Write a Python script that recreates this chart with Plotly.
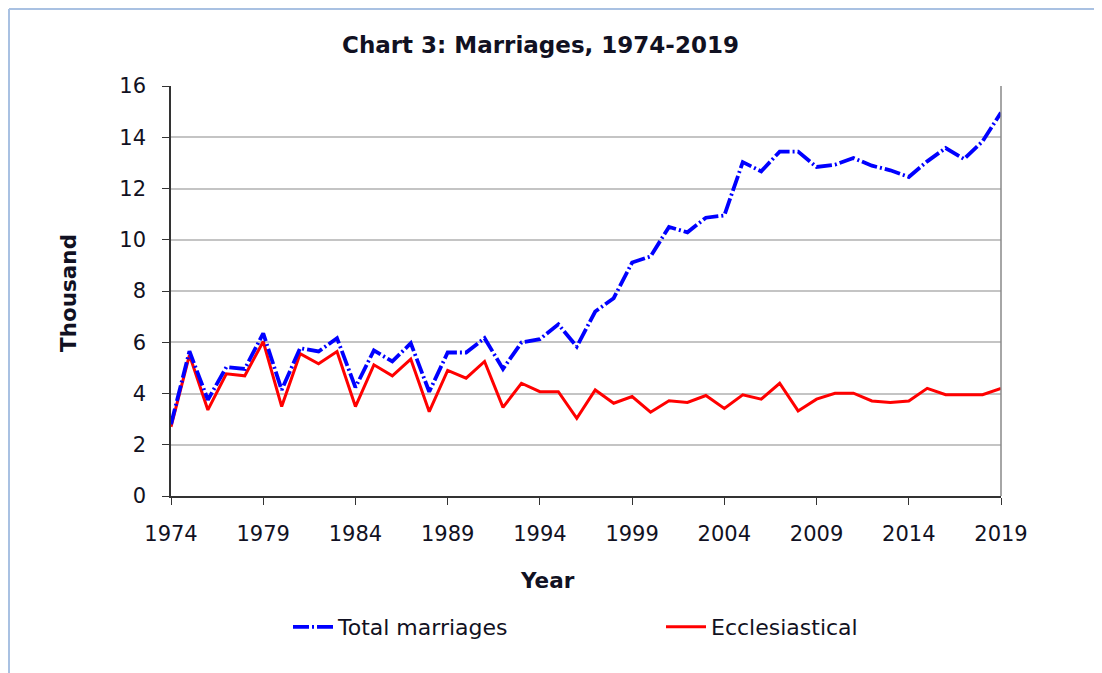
import plotly.graph_objects as go

years = list(range(1974, 2020))

total_marriages = [
    2.8, 5.65, 3.75, 5.03, 4.96, 6.35, 4.14, 5.77, 5.64, 6.16,
    4.24, 5.68, 5.25, 5.96, 4.07, 5.6, 5.6, 6.16, 4.96, 5.99,
    6.12, 6.7, 5.83, 7.2, 7.72, 9.11, 9.35, 10.5, 10.29, 10.86,
    10.95, 13.03, 12.67, 13.44, 13.44, 12.84, 12.93, 13.19, 12.89, 12.71,
    12.45, 13.06, 13.58, 13.15, 13.84, 14.96,
]

ecclesiastical = [
    2.7, 5.5, 3.36, 4.77, 4.69, 6.03, 3.49, 5.55, 5.16, 5.64,
    3.49, 5.12, 4.69, 5.34, 3.29, 4.9, 4.6, 5.25, 3.46, 4.4,
    4.07, 4.07, 3.03, 4.14, 3.62, 3.88, 3.27, 3.72, 3.65, 3.92,
    3.42, 3.95, 3.78, 4.4, 3.32, 3.78, 4.01, 4.01, 3.71, 3.65,
    3.71, 4.2, 3.95, 3.95, 3.95, 4.2,
]

x_ticks = [1974, 1979, 1984, 1989, 1994, 1999, 2004, 2009, 2014, 2019]
y_ticks = [0, 2, 4, 6, 8, 10, 12, 14, 16]

FONT = "DejaVu Sans"
TXT = "#111122"

fig = go.Figure()
fig.add_trace(go.Scatter(
    x=years, y=ecclesiastical, name="Ecclesiastical", mode="lines",
    line=dict(color="#ff0000", width=3),
))
fig.add_trace(go.Scatter(
    x=years, y=total_marriages, name="Total marriages", mode="lines",
    line=dict(color="#0000ff", width=3.8, dash="16px,3px,2px,3px"),
))

# figure coordinates (page is offset by the 8px body margin)
L, R, T, B = 163, 993, 78, 488
W, H = 1102, 673
pw, ph = R - L, B - T

def px(xp):
    return (xp - L) / pw

def py(yp):
    return (B - yp) / ph

fig.update_layout(
    width=W, height=H,
    margin=dict(l=L, r=W - R, t=T, b=H - B, pad=0),
    paper_bgcolor="white", plot_bgcolor="white",
    font=dict(family=FONT, size=21, color=TXT),
    showlegend=True,
    legend=dict(
        orientation="h", x=px(280), y=py(619), xanchor="left", yanchor="middle",
        traceorder="reversed", font=dict(size=22, family=FONT, color=TXT),
        entrywidth=318, entrywidthmode="pixels", itemwidth=40,
        bgcolor="rgba(0,0,0,0)",
    ),
    xaxis=dict(
        range=[1974, 2019], tickvals=x_ticks, ticktext=[str(v) for v in x_ticks],
        showgrid=False, zeroline=False,
        showline=True, linecolor="#333333", linewidth=1.5,
        ticks="outside", ticklen=7, tickcolor="#333333", tickwidth=1.2,
        ticklabelstandoff=11, tickfont=dict(size=21, family=FONT, color=TXT),
    ),
    yaxis=dict(
        range=[0, 16], tickvals=y_ticks, ticktext=[str(v) for v in y_ticks],
        showgrid=True, gridcolor="#c4c4c4", gridwidth=1.5, zeroline=False,
        showline=True, linecolor="#333333", linewidth=1.5,
        ticks="outside", ticklen=7, tickcolor="#333333", tickwidth=1.2,
        ticklabelstandoff=12, tickfont=dict(size=21, family=FONT, color=TXT),
    ),
    annotations=[
        dict(text="<b>Chart 3: Marriages, 1974-2019</b>", xref="paper", yref="paper",
             x=px(532), y=py(37), xanchor="center", yanchor="middle", showarrow=False,
             font=dict(size=23, family=FONT, color=TXT)),
        dict(text="<b>Year</b>", xref="paper", yref="paper",
             x=px(539), y=py(572), xanchor="center", yanchor="middle", showarrow=False,
             font=dict(size=21.5, family=FONT, color=TXT)),
        dict(text="<b>Thousand</b>", xref="paper", yref="paper",
             x=px(60), y=py(285), xanchor="center", yanchor="middle", showarrow=False,
             textangle=-90, font=dict(size=21.5, family=FONT, color=TXT)),
    ],
    shapes=[
        # right border of plot area
        dict(type="line", xref="paper", yref="paper", x0=1, x1=1, y0=0, y1=1,
             line=dict(color="#888888", width=1.5)),
        # outer light-blue frame (top and left)
        dict(type="line", xref="paper", yref="paper", x0=px(1), x1=px(W + 5), y0=py(1), y1=py(1),
             line=dict(color="#a9c1e2", width=2)),
        dict(type="line", xref="paper", yref="paper", x0=px(1), x1=px(1), y0=py(1), y1=py(H + 5),
             line=dict(color="#a9c1e2", width=2)),
    ],
)

fig.write_html("out.html")
